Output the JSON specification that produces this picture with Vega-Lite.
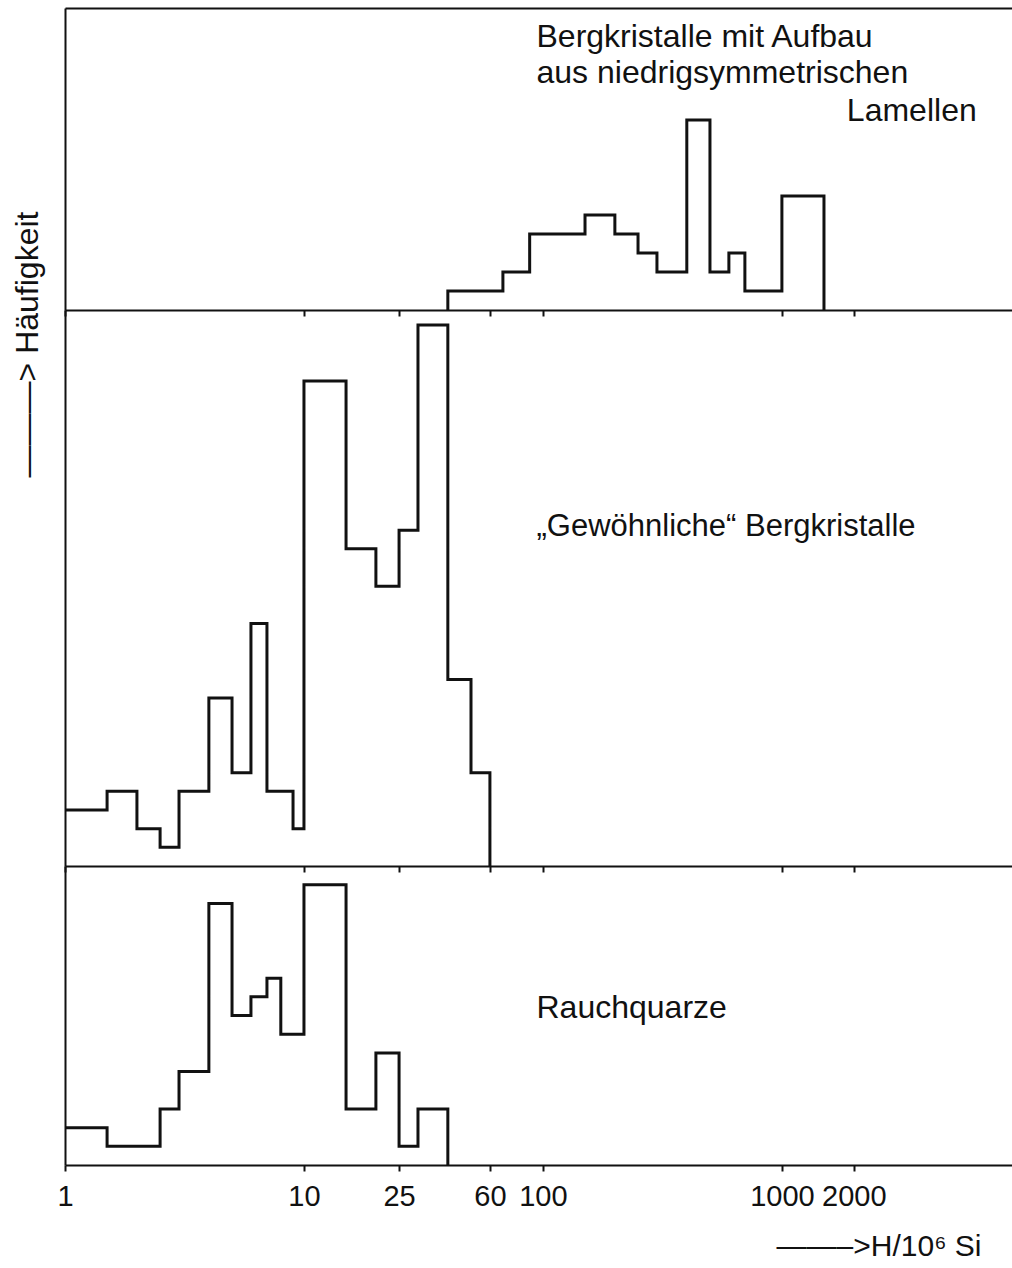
{
  "$schema": "https://vega.github.io/schema/vega-lite/v6.json",
  "usermeta": {"embedOptions": {"actions": false}},
  "background": "white",
  "padding": {"left": 11, "top": 8, "right": 0, "bottom": 0},
  "spacing": 0,
  "bounds": "flush",
  "config": {
    "view": {"stroke": null},
    "axis": {
      "grid": false,
      "domainColor": "#111",
      "domainWidth": 2,
      "tickColor": "#111",
      "tickWidth": 2,
      "tickSize": 6,
      "labelColor": "#111",
      "titleColor": "#111",
      "titleFontWeight": "normal"
    },
    "text": {"font": "Liberation Sans", "fontSize": 32, "color": "#111"}
  },
  "datasets": {
    "top": [
      {"i": 0, "H": 40, "n": 0},
      {"i": 1, "H": 40, "n": 1},
      {"i": 2, "H": 68, "n": 2},
      {"i": 3, "H": 88, "n": 4},
      {"i": 4, "H": 150, "n": 5},
      {"i": 5, "H": 200, "n": 4},
      {"i": 6, "H": 250, "n": 3},
      {"i": 7, "H": 300, "n": 2},
      {"i": 8, "H": 400, "n": 10},
      {"i": 9, "H": 500, "n": 2},
      {"i": 10, "H": 600, "n": 3},
      {"i": 11, "H": 700, "n": 1},
      {"i": 12, "H": 1000, "n": 6},
      {"i": 13, "H": 1500, "n": 0}
    ],
    "mid": [
      {"H": 1, "n": 3},
      {"H": 1.5, "n": 4},
      {"H": 2, "n": 2},
      {"H": 2.5, "n": 1},
      {"H": 3, "n": 4},
      {"H": 4, "n": 9},
      {"H": 5, "n": 5},
      {"H": 6, "n": 13},
      {"H": 7, "n": 4},
      {"H": 9, "n": 2},
      {"H": 10, "n": 26},
      {"H": 15, "n": 17},
      {"H": 20, "n": 15},
      {"H": 25, "n": 18},
      {"H": 30, "n": 29},
      {"H": 40, "n": 10},
      {"H": 50, "n": 5},
      {"H": 60, "n": 0}
    ],
    "bot": [
      {"H": 1, "n": 2},
      {"H": 1.5, "n": 1},
      {"H": 2.5, "n": 3},
      {"H": 3, "n": 5},
      {"H": 4, "n": 14},
      {"H": 5, "n": 8},
      {"H": 6, "n": 9},
      {"H": 7, "n": 10},
      {"H": 8, "n": 7},
      {"H": 10, "n": 15},
      {"H": 15, "n": 3},
      {"H": 20, "n": 6},
      {"H": 25, "n": 1},
      {"H": 30, "n": 3},
      {"H": 40, "n": 0}
    ],
    "topLabels": [
      {"H": 94, "n": 13.85, "t": "Bergkristalle mit Aufbau"},
      {"H": 94, "n": 11.95, "t": "aus niedrigsymmetrischen"},
      {"H": 1870, "n": 9.95, "t": "Lamellen"}
    ],
    "midLabels": [
      {"H": 94, "n": 17.7, "t": "„Gewöhnliche“ Bergkristalle"}
    ],
    "botLabels": [
      {"H": 94, "n": 7.87, "t": "Rauchquarze"}
    ]
  },
  "vconcat": [
    {
      "width": 948,
      "height": 302,
      "resolve": {"axis": {"x": "independent"}},
      "layer": [
        {
          "data": {"name": "top"},
          "mark": {"type": "line", "interpolate": "step-after", "strokeWidth": 3, "color": "#111", "strokeJoin": "miter"},
          "encoding": {
            "x": {
              "field": "H", "type": "quantitative",
              "scale": {"type": "log", "domain": [1, 9270], "nice": false},
              "axis": {"orient": "bottom", "values": [1, 10, 25, 60, 100, 1000, 2000], "labels": false, "title": null}
            },
            "y": {
              "field": "n", "type": "quantitative",
              "scale": {"domain": [0, 15.9], "nice": false},
              "axis": {
                "labels": false, "ticks": false,
                "title": "———>  Häufigkeit",
                "titleFont": "Liberation Sans", "titleFontSize": 32,
                "titleBaseline": "alphabetic",
                "titleX": -28, "titleY": 336
              }
            },
            "order": {"field": "i"}
          }
        },
        {
          "data": {"name": "topLabels"},
          "mark": {"type": "text", "align": "left", "baseline": "alphabetic"},
          "encoding": {
            "x": {"field": "H", "type": "quantitative", "axis": {"orient": "top", "ticks": false, "labels": false, "title": null}},
            "y": {"field": "n", "type": "quantitative"},
            "text": {"field": "t"}
          }
        }
      ]
    },
    {
      "width": 948,
      "height": 556,
      "layer": [
        {
          "data": {"name": "mid"},
          "mark": {"type": "line", "interpolate": "step-after", "strokeWidth": 3, "color": "#111", "strokeJoin": "miter"},
          "encoding": {
            "x": {
              "field": "H", "type": "quantitative",
              "scale": {"type": "log", "domain": [1, 9270], "nice": false},
              "axis": {"orient": "bottom", "values": [1, 10, 25, 60, 100, 1000, 2000], "labels": false, "title": null}
            },
            "y": {
              "field": "n", "type": "quantitative",
              "scale": {"domain": [0, 29.8], "nice": false},
              "axis": {"labels": false, "ticks": false, "title": null}
            }
          }
        },
        {
          "data": {"name": "midLabels"},
          "mark": {"type": "text", "align": "left", "baseline": "alphabetic", "fontSize": 31},
          "encoding": {
            "x": {"field": "H", "type": "quantitative"},
            "y": {"field": "n", "type": "quantitative"},
            "text": {"field": "t"}
          }
        }
      ]
    },
    {
      "width": 948,
      "height": 299,
      "layer": [
        {
          "data": {"name": "bot"},
          "mark": {"type": "line", "interpolate": "step-after", "strokeWidth": 3, "color": "#111", "strokeJoin": "miter"},
          "encoding": {
            "x": {
              "field": "H", "type": "quantitative",
              "scale": {"type": "log", "domain": [1, 9270], "nice": false},
              "axis": {
                "orient": "bottom",
                "values": [1, 10, 25, 60, 100, 1000, 2000],
                "format": "d",
                "labelOverlap": false,
                "labelFlush": false,
                "labelFont": "Liberation Sans",
                "labelFontSize": 29,
                "labelBaseline": "alphabetic",
                "labelPadding": 34,
                "title": "——–>H/10⁶ Si",
                "titleFont": "Liberation Sans",
                "titleFontSize": 30,
                "titleAlign": "right",
                "titleBaseline": "alphabetic",
                "titleX": 916,
                "titleY": 90
              }
            },
            "y": {
              "field": "n", "type": "quantitative",
              "scale": {"domain": [0, 16], "nice": false},
              "axis": {"labels": false, "ticks": false, "title": null}
            }
          }
        },
        {
          "data": {"name": "botLabels"},
          "mark": {"type": "text", "align": "left", "baseline": "alphabetic"},
          "encoding": {
            "x": {"field": "H", "type": "quantitative"},
            "y": {"field": "n", "type": "quantitative"},
            "text": {"field": "t"}
          }
        }
      ]
    }
  ]
}
